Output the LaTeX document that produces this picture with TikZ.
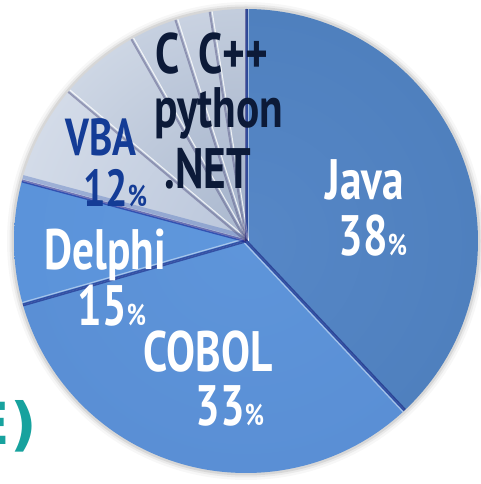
\documentclass[tikz,border=0pt]{standalone}
\usepackage{fontspec}
\setmainfont{PT Sans}
\newfontfamily\labfont[FakeStretch=0.76]{PT Sans}
\newfontfamily\tealfont{DejaVu Sans}
\definecolor{pbase}{HTML}{4D7EBF}
\definecolor{pin}{HTML}{5588C8}
\definecolor{prim}{HTML}{2A5590}
\definecolor{tealtxt}{HTML}{17A29E}
\definecolor{vbatxt}{HTML}{143C96}
\definecolor{darktxt}{HTML}{0C1A38}
\pgfdeclareradialshading[pbase,pin,prim]{pieshade}{\pgfpoint{0bp}{0bp}}{%
  color(0bp)=(pin); color(25bp)=(pbase); color(45bp)=(pbase); color(50bp)=(prim); color(60bp)=(prim)}
\def\pieR{232}
\newcommand\pieslice[5]{%
  \begin{scope}
    \clip (0,0) -- (#1:\pieR) arc[start angle=#1,end angle=#2,radius=\pieR] -- cycle;
    \definecolor{pbase}{HTML}{#3}\definecolor{pin}{HTML}{#4}\definecolor{prim}{HTML}{#5}%
    \shade[shading=pieshade] (0,0) circle[radius=\pieR];
  \end{scope}}
\tikzset{
  whitelab/.style={text=white, font=\labfont\bfseries\fontsize{57}{57}\selectfont, inner sep=0pt, anchor=base},
  vbalab/.style={text=vbatxt, font=\labfont\bfseries\fontsize{52}{52}\selectfont, inner sep=0pt, anchor=base},
  darklab/.style={text=darktxt, font=\labfont\bfseries\fontsize{57}{57}\selectfont, inner sep=0pt, anchor=base},
  edgedark/.style={line width=3pt, draw=#1, opacity=0.45},
  edgelight/.style={line width=1.2pt, draw=white, opacity=0.45}
}
\newcommand\pct{{\fontsize{30}{30}\selectfont\%}}
\begin{document}
\begin{tikzpicture}[x=1pt,y=1pt]
\useasboundingbox (0,0) rectangle (481,484);
\fill[white] (0,0) rectangle (481,484);
\begin{scope}[shift={(246,243)}]
  % soft shadow
  \foreach \w/\o in {12/0.03,7/0.05,3/0.08}
    \draw[black,opacity=\o,line width=\w pt] (0,0) circle[radius=233];
  % slices (angles from the picture)
  \pieslice{-46.8}{90}{4F80BE}{5687C7}{24497F}
  \pieslice{196}{313.2}{5A8FD5}{5E95DA}{284F8A}
  \pieslice{165}{196}{5B93DA}{5F97DC}{2A5592}
  \pieslice{140}{165}{D3DBE8}{BAC6DB}{EEF2F8}
  \pieslice{119.6}{140}{CDD6E4}{A9B7CE}{F2F5FA}
  \pieslice{107.7}{119.6}{C6D0E0}{A1B0C9}{F0F3F8}
  \pieslice{99}{107.7}{C9D2E1}{A3B2CA}{EFF2F8}
  \pieslice{90}{99}{C3CDDD}{9FAEC7}{EEF1F7}
  % bevel creases
  \draw[edgedark=black!60!blue] (0,0) -- (-46.8:\pieR);
  \draw[edgelight] ([shift={(-136.8:2.5)}]0,0) -- ([shift={(-136.8:2.5)}]-46.8:\pieR);
  \draw[edgedark=black!60!blue] (0,0) -- (196:\pieR);
  \draw[edgelight] ([shift={(106:2.5)}]0,0) -- ([shift={(106:2.5)}]196:\pieR);
  \draw[line width=4pt, draw=white!40!cyan!40!blue, opacity=0.35] ([shift={(75:4)}]0,0) -- ([shift={(75:4)}]165:\pieR);
  \draw[edgedark=black!50!blue] (0,0) -- (165:\pieR);
  \foreach \a in {140,119.6,107.7,99}{
    \draw[line width=2pt, draw=black!40!blue!30!gray, opacity=0.5] (0,0) -- (\a:\pieR);
    \draw[line width=1pt, white, opacity=0.8] ([shift={(\a-90:2.5)}]0,0) -- ([shift={(\a-90:2.5)}]\a:\pieR);
  }
  \draw[edgedark=black!60!blue] (0,0) -- (90:\pieR);
  \draw[edgelight] ([shift={(0:2.5)}]0,0) -- ([shift={(0:2.5)}]90:\pieR);
\end{scope}
% labels
\node[whitelab] (java) at (365,284) {Java};
\node[whitelab] (javap) at (373,228) {38\pct};
\node[whitelab] (cobol) at (208,112) {COBOL};
\node[whitelab] (cobolp) at (230,58) {33\pct};
\node[whitelab] (delphi) at (105,214) {Delphi};
\node[whitelab] (delphip) at (112,158) {15\pct};
\node[vbalab] (vba) at (101,328) {VBA};
\node[vbalab] (vbap) at (115,277) {12\pct};
\node[darklab] (cc) at (212,410) {C\,\,C++};
\node[darklab] (python) at (219,356) {python};
\node[darklab] (net) at (208,295) {.NET};
\begin{scope}
  \clip (0,0) rectangle (481,484);
  \node[text=tealtxt, font=\tealfont\bfseries\fontsize{58}{58}\selectfont, inner sep=0pt, anchor=base east] (teal) at (37,39) {E)};
\end{scope}
\end{tikzpicture}
\end{document}
